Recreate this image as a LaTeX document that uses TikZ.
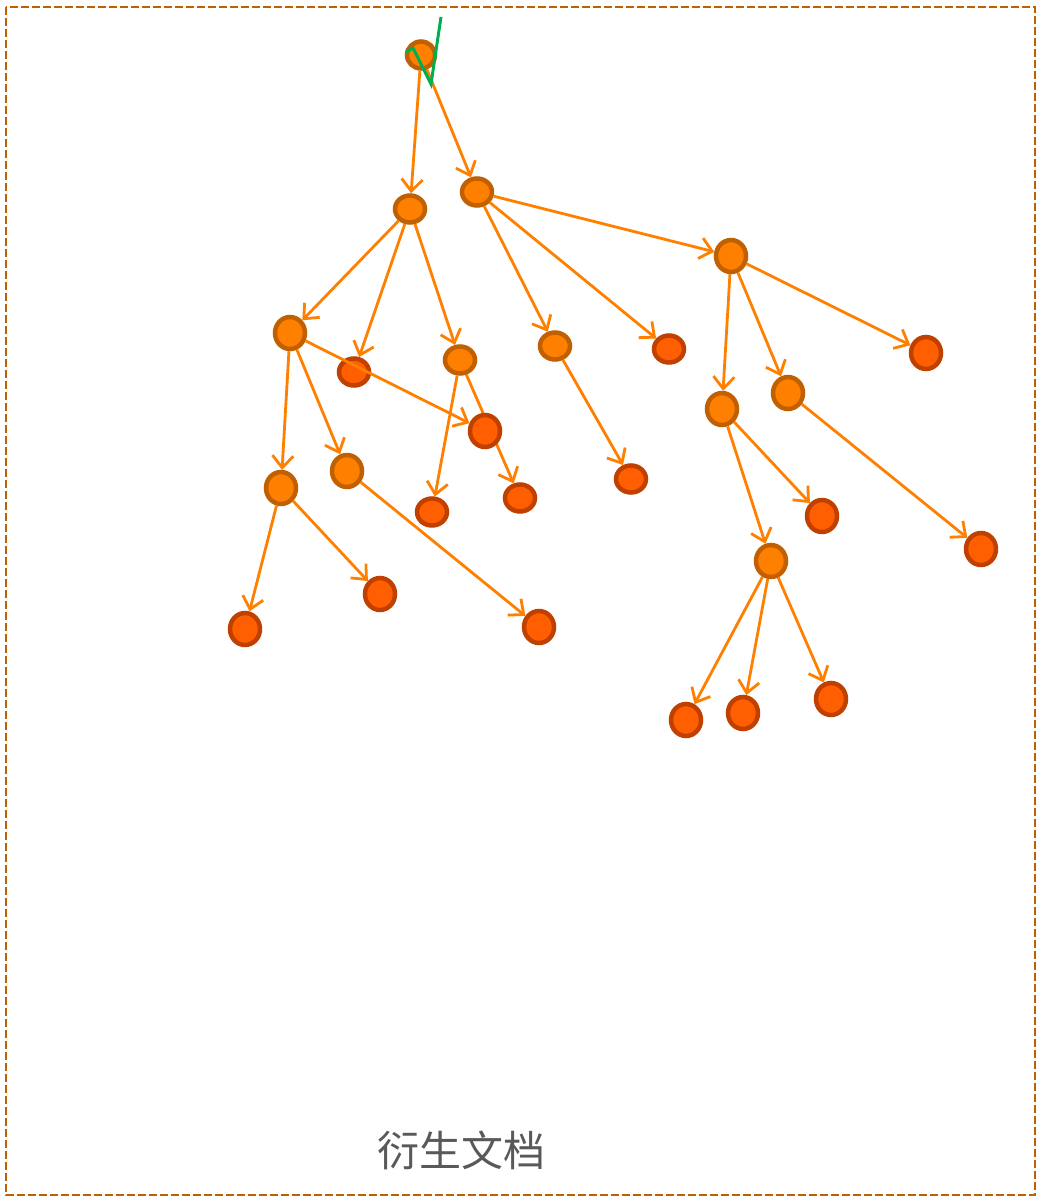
\documentclass[tikz,border=0pt]{standalone}
\usepackage{fontspec}
\newfontfamily\cjk{Noto Sans CJK SC}
\usetikzlibrary{arrows.meta,shapes.geometric}
\definecolor{branchfill}{HTML}{FF8000}
\definecolor{branchline}{HTML}{C06000}
\definecolor{leaffill}{HTML}{FF5F00}
\definecolor{leafline}{HTML}{C04000}
\definecolor{linkcol}{HTML}{FF8000}
\definecolor{tickcol}{HTML}{00B050}
\definecolor{framecol}{HTML}{C06000}
\definecolor{captioncol}{HTML}{595959}
\pgfdeclarelayer{bg}
\pgfsetlayers{bg,main}

\begin{document}
\begin{tikzpicture}[x=1pt,y=-1pt,
  dot/.style={ellipse,line width=4.5pt,inner sep=0pt,minimum width=30pt,minimum height=32pt},
  flat/.style={minimum height=27pt},
  branch/.style={dot,draw=branchline,fill=branchfill},
  leaf/.style={dot,draw=leafline,fill=leaffill},
  link/.style={draw=linkcol,line width=2.8pt,-{Straight Barb[length=12pt,width=21pt,line width=2.8pt]}}]
\useasboundingbox (0,0) rectangle (1037,1197);
\draw[framecol,line width=2.6pt,dash pattern=on 8pt off 3pt] (6,7) rectangle (1035,1195);
% branch nodes
\node[branch,flat,minimum width=28pt] (root) at (421,55) {};
\node[branch,flat] (a) at (410,209) {};
\node[branch,flat] (b) at (477,192) {};
\node[branch] (c) at (731,256) {};
\node[branch] (d) at (290,333) {};
\node[branch,flat] (e) at (460,360) {};
\node[branch,flat] (f) at (555,346) {};
\node[branch] (g) at (722,409) {};
\node[branch] (h) at (788,393) {};
\node[branch] (i) at (281,488) {};
\node[branch] (j) at (347,471) {};
\node[branch] (k) at (771,561) {};
% leaves
\node[leaf,flat] (l1) at (354,372) {};
\node[leaf,flat] (l2) at (669,349) {};
\node[leaf] (l3) at (926,353) {};
\node[leaf] (l4) at (485,431) {};
\node[leaf,flat] (l5) at (432,512) {};
\node[leaf,flat] (l6) at (520,498) {};
\node[leaf,flat] (l7) at (631,479) {};
\node[leaf] (l8) at (822,516) {};
\node[leaf] (l9) at (981,549) {};
\node[leaf] (l10) at (380,594) {};
\node[leaf] (l11) at (245,629) {};
\node[leaf] (l12) at (539,627) {};
\node[leaf] (l13) at (686,720) {};
\node[leaf] (l14) at (743,713) {};
\node[leaf] (l15) at (831,699) {};
\foreach \s/\t in {root/a,root/b,a/d,a/l1,a/e,b/f,b/l2,b/c,d/i,d/j,d/l4,e/l5,
  f/l7,c/g,c/h,c/l3,g/l8,g/k,h/l9,i/l11,i/l10,j/l12,k/l13,k/l14,k/l15}
  \draw[link] (\s) -- (\t);
\begin{pgfonlayer}{bg}
\draw[link] (e) -- (l6);
\end{pgfonlayer}
\draw[tickcol,line width=3pt] (406,52) -- (413,48) -- (431,84) -- (441,17);
\node[text=captioncol,font=\cjk\fontsize{42}{50}\selectfont] (caption) at (461,1150) {衍生文档};
\end{tikzpicture}
\end{document}
